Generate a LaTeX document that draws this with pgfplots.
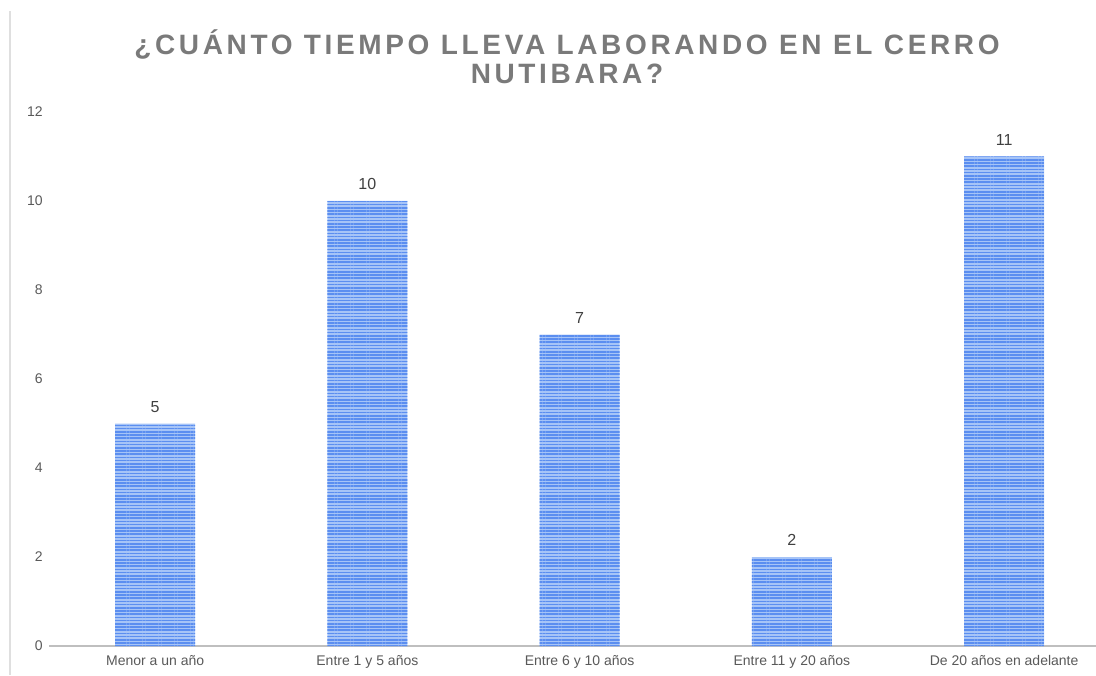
\documentclass[border=0pt]{standalone}
\usepackage{fontspec}
\setmainfont{Liberation Sans}
\usepackage{pgfplots}
\pgfplotsset{compat=1.18}
\usetikzlibrary{patterns.meta}
\definecolor{barfill}{HTML}{A6C4F7}
\definecolor{barline}{HTML}{5B8EF0}
\definecolor{titlegray}{HTML}{7A7A7A}
\definecolor{ticktext}{HTML}{595959}
\definecolor{axisgray}{HTML}{BFBFBF}
\begin{document}
\begin{tikzpicture}
\useasboundingbox (0,0) rectangle (548pt,337.5pt);
\draw[gray!25, line width=0.6pt] (5pt,0pt) -- (5pt,332pt);
\node[anchor=base, text=titlegray, font=\fontsize{14}{16}\selectfont\bfseries\addfontfeatures{LetterSpace=13}] at (283.5pt,310pt) {¿CUÁNTO TIEMPO LLEVA LABORANDO EN EL CERRO};
\node[anchor=base, text=titlegray, font=\fontsize{14}{16}\selectfont\bfseries\addfontfeatures{LetterSpace=13}] at (283.5pt,295.5pt) {NUTIBARA?};
\begin{axis}[
  at={(24.5pt,14.5pt)}, anchor=south west,
  scale only axis,
  width=523.5pt, height=267pt,
  xmin=-0.5, xmax=4.433,
  ymin=0, ymax=12,
  axis x line*=bottom,
  axis y line=none,
  axis line style={draw=axisgray, line width=0.8pt},
  x axis line style={-},
  xtick={0,1,2,3,4},
  xticklabels={Menor a un año, Entre 1 y 5 años, Entre 6 y 10 años, Entre 11 y 20 años, De 20 años en adelante},
  major tick length=0pt,
  xticklabel style={font=\fontsize{7}{8}\selectfont, text=ticktext, yshift=-1pt},
  /pgf/number format/assume math mode=true,
  clip=false,
  ybar, bar width=40pt,
  nodes near coords,
  nodes near coords style={font=\fontsize{8}{9}\selectfont, text=black!75, yshift=2pt},
]
\addplot[draw=none, fill=barfill, postaction={pattern={Lines[angle=0, distance=1.6pt, line width=0.75pt]}, pattern color=barline}]
  coordinates {(0,5) (1,10) (2,7) (3,2) (4,11)};
\pgfplotsinvokeforeach{0,2,4,6,8,10,12}{
  \node[anchor=east, font=\fontsize{7}{8}\selectfont, text=ticktext, inner sep=0pt] at (axis cs:-0.5,#1) [xshift=-3pt] {#1};
}
\end{axis}
\end{tikzpicture}
\end{document}
